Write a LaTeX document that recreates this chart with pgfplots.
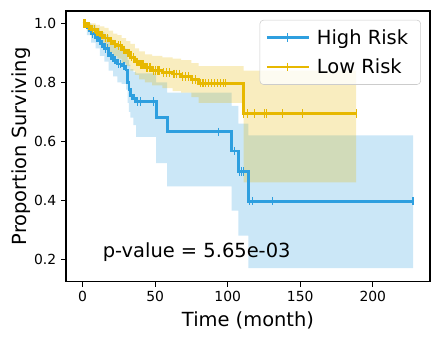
\documentclass[border=0pt]{standalone}
\usepackage{fontspec}
\setmainfont{DejaVu Sans}
\usepackage{pgfplots}
\usepackage{pgfplotstable}
\pgfplotsset{compat=1.18}
\usepgfplotslibrary{fillbetween}
\definecolor{hiblue}{HTML}{2E9FDF}
\definecolor{loyel}{HTML}{E7B800}

% Kaplan-Meier steps (time, survival)
\pgfplotstableread{
t s
0 1.0
3 0.985
6 0.965
9 0.95
12 0.93
15 0.915
18 0.89
21 0.875
24 0.862
27 0.855
30 0.842
31 0.80
32 0.775
33 0.755
35 0.745
37 0.735
50.7 0.68
58.3 0.632
102.8 0.567
107.4 0.497
114.3 0.397
227.7 0.397
}\hikm
\pgfplotstableread{
t u l
0 1.0 1.0
3 1.0 0.96
6 0.995 0.935
9 0.985 0.915
12 0.97 0.89
15 0.96 0.87
18 0.945 0.84
21 0.93 0.82
24 0.92 0.80
27 0.915 0.795
30 0.905 0.775
31 0.875 0.73
32 0.86 0.70
33 0.845 0.68
35 0.835 0.655
37 0.83 0.615
50.7 0.80 0.526
58.3 0.765 0.447
102.8 0.72 0.365
107.4 0.66 0.28
114.3 0.62 0.17
227.7 0.62 0.17
}\hici
\pgfplotstableread{
t s
2 1.0
4 0.985
5 0.985
7 0.965
8 0.965
10 0.95
11 0.95
13 0.93
14 0.93
16 0.915
17 0.915
19 0.89
20 0.89
22 0.875
23 0.875
25 0.862
26 0.862
28 0.855
29 0.855
30.5 0.842
31.5 0.80
32.5 0.775
34 0.755
36 0.745
38 0.735
40 0.735
49 0.735
93.9 0.632
105 0.567
108 0.497
109.7 0.497
111 0.497
115 0.397
116.9 0.397
131 0.397
227.7 0.397
}\hicens

\pgfplotstableread{
t s
0 1.0
3 0.99
6 0.98
9 0.97
12 0.96
15 0.95
18 0.94
21 0.93
24 0.925
27 0.91
30 0.90
33 0.885
36 0.87
39 0.86
43 0.85
48 0.84
55 0.833
62 0.828
68 0.82
75 0.81
80 0.797
111 0.694
188.5 0.694
}\lokm
\pgfplotstableread{
t u l
0 1.0 1.0
3 1.0 0.975
6 1.0 0.96
9 0.995 0.945
12 0.99 0.93
15 0.985 0.915
18 0.975 0.90
21 0.965 0.89
24 0.96 0.88
27 0.95 0.865
30 0.94 0.855
33 0.93 0.84
36 0.915 0.825
39 0.905 0.81
43 0.895 0.80
48 0.89 0.79
55 0.885 0.78
62 0.88 0.77
68 0.875 0.765
75 0.865 0.75
80 0.855 0.73
111 0.84 0.461
188.5 0.84 0.461
}\loci
\pgfplotstableread{
t s
1 1.0
2 1.0
4 0.99
5 0.99
7 0.98
8 0.98
10 0.97
11 0.97
13 0.96
14 0.96
16 0.95
17 0.95
19 0.94
20 0.94
22 0.93
23 0.93
25 0.925
26 0.925
28 0.91
29 0.91
31 0.90
32 0.90
34 0.885
35 0.885
37 0.87
38 0.87
40 0.86
41 0.86
42 0.86
44 0.85
45 0.85
46 0.85
47 0.85
49 0.84
50 0.84
52 0.84
53 0.84
56 0.833
58 0.833
60 0.833
63 0.828
65 0.828
67 0.828
69 0.82
71 0.82
73 0.82
76 0.81
78 0.81
81 0.797
83 0.797
85 0.797
87 0.797
89 0.797
91 0.797
93 0.797
95 0.797
97 0.797
98.5 0.797
111 0.694
113.8 0.694
118.5 0.694
125.3 0.694
126.9 0.694
137.9 0.694
151.3 0.694
188.5 0.694
}\locens

\begin{document}
\begin{tikzpicture}
\begin{axis}[
    scale only axis,
    width=262pt, height=195pt,
    xmin=-11.4, xmax=239.4,
    ymin=0.123, ymax=1.042,
    xtick={0,50,100,150,200},
    ytick={0.2,0.4,0.6,0.8,1.0},
    tick pos=left,
    tick align=outside,
    major tick length=3.5pt,
    every tick/.style={black, line width=0.8pt},
    axis line style={line width=0.8pt},
    tick label style={font=\fontsize{10}{12}\selectfont},
    /pgf/number format/assume math mode=true,
    yticklabel style={/pgf/number format/.cd, fixed, fixed zerofill, precision=1},
    xlabel={Time (month)},
    ylabel={Proportion Surviving},
    label style={font=\fontsize{14}{17}\selectfont},
    ylabel style={yshift=-4pt},
    legend style={at={(0.975,0.967)}, anchor=north east,
        font=\fontsize{14}{17}\selectfont, draw=black!20, rounded corners=2.5pt,
        fill=white, fill opacity=0.8, text opacity=1,
        inner xsep=4pt, inner ysep=4.5pt, row sep=5pt,
        nodes={inner xsep=5pt}},
    legend cell align=left,
    legend image code/.code={\draw[mark repeat=2,mark phase=2,#1,line width=2pt] plot coordinates {(0pt,0pt) (15pt,0pt) (30pt,0pt)};},
]
\coordinate (sw) at (rel axis cs:0,0);
\coordinate (ne) at (rel axis cs:1,1);

\addplot[name path=hu, const plot, draw=none, forget plot] table[x=t, y=u] {\hici};
\addplot[name path=hl, const plot, draw=none, forget plot] table[x=t, y=l] {\hici};
\addplot[fill=hiblue, fill opacity=0.25, draw=none, forget plot] fill between[of=hu and hl];
\addplot[hiblue, line width=2pt, const plot, forget plot] table[x=t, y=s] {\hikm};
\addplot[hiblue, only marks, mark=|, mark size=3pt, mark options={line width=0.8pt}, forget plot] table[x=t, y=s] {\hicens};

\addplot[name path=lu, const plot, draw=none, forget plot] table[x=t, y=u] {\loci};
\addplot[name path=ll, const plot, draw=none, forget plot] table[x=t, y=l] {\loci};
\addplot[fill=loyel, fill opacity=0.25, draw=none, forget plot] fill between[of=lu and ll];
\addplot[loyel, line width=2pt, const plot, forget plot] table[x=t, y=s] {\lokm};
\addplot[loyel, only marks, mark=|, mark size=3pt, mark options={line width=0.8pt}, forget plot] table[x=t, y=s] {\locens};

\addlegendimage{hiblue, mark=|, mark size=3pt, mark options={line width=0.8pt}}
\addlegendentry{High Risk}
\addlegendimage{loyel, mark=|, mark size=3pt, mark options={line width=0.8pt}}
\addlegendentry{Low Risk}

\node[anchor=west, inner sep=0pt, font=\fontsize{14}{17}\selectfont] at (axis cs:13.8,0.225) {p-value = 5.65e-03};
\end{axis}
\pgfresetboundingbox
\path[use as bounding box] ([shift={(-47.5pt,-41.8pt)}]sw) rectangle ([shift={(7.2pt,7.9pt)}]ne);
\end{tikzpicture}
\end{document}
